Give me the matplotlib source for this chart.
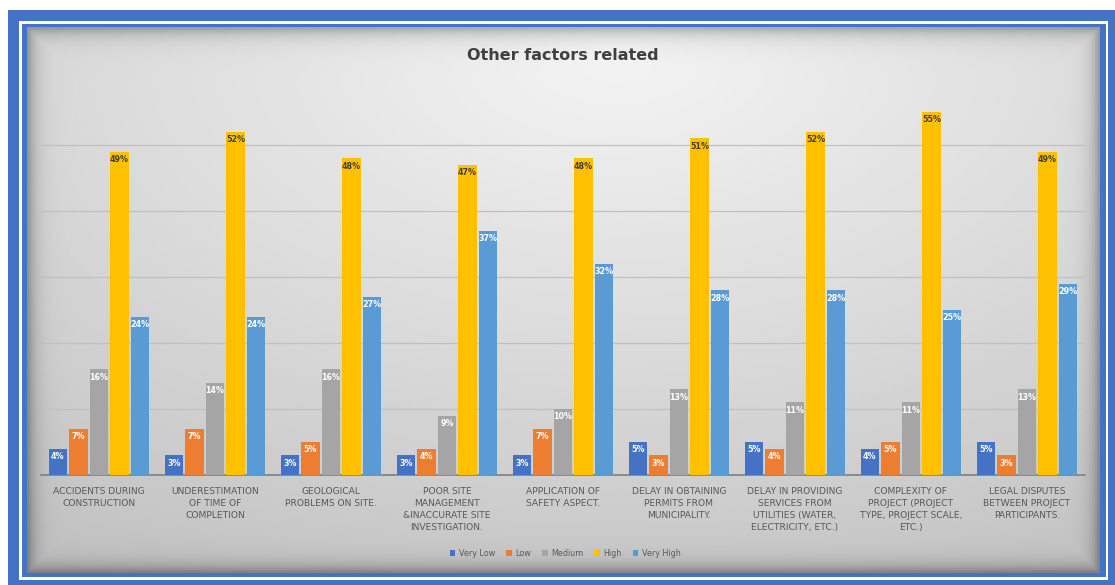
import numpy as np
import matplotlib
matplotlib.use("Agg")
import matplotlib.pyplot as plt
from matplotlib.patches import Rectangle

categories = [
    "ACCIDENTS DURING\nCONSTRUCTION",
    "UNDERESTIMATION\nOF TIME OF\nCOMPLETION",
    "GEOLOGICAL\nPROBLEMS ON SITE.",
    "POOR SITE\nMANAGEMENT\n&INACCURATE SITE\nINVESTIGATION.",
    "APPLICATION OF\nSAFETY ASPECT.",
    "DELAY IN OBTAINING\nPERMITS FROM\nMUNICIPALITY.",
    "DELAY IN PROVIDING\nSERVICES FROM\nUTILITIES (WATER,\nELECTRICITY, ETC.)",
    "COMPLEXITY OF\nPROJECT (PROJECT\nTYPE, PROJECT SCALE,\nETC.)",
    "LEGAL DISPUTES\nBETWEEN PROJECT\nPARTICIPANTS.",
]
series_names = ["Very Low", "Low", "Medium", "High", "Very High"]
very_low = [4, 3, 3, 3, 3, 5, 5, 4, 5]
low = [7, 7, 5, 4, 7, 3, 4, 5, 3]
medium = [16, 14, 16, 9, 10, 13, 11, 11, 13]
high = [49, 52, 48, 47, 48, 51, 52, 55, 49]
very_high = [24, 24, 27, 37, 32, 28, 28, 25, 29]

colors = ["#4472C4", "#ED7D31", "#A5A5A5", "#FFC000", "#5B9BD5"]
label_colors = ["white", "white", "white", "#404040", "white"]

W, H = 1115, 585
fig = plt.figure(figsize=(W / 100, H / 100), dpi=100)
fig.patch.set_facecolor("white")

# frame: outer blue, white gap, inner blue
def px_rect(x0, y0, x1, y1, color):
    fig.patches.append(Rectangle((x0 / W, 1 - y1 / H), (x1 - x0) / W, (y1 - y0) / H,
                                 transform=fig.transFigure, facecolor=color,
                                 edgecolor="none", zorder=-10))

px_rect(8, 10, 1115, 585, "#4472C4")
px_rect(19, 21, 1108, 580, "white")
px_rect(22, 24, 1106, 577, "#4472C4")

# chart background with soft gradient + inner shadow
bg = fig.add_axes([27 / W, 1 - 573 / H, (1100 - 27) / W, (573 - 27) / H], zorder=-5)
ny, nx = 200, 400
yy, xx = np.mgrid[0:1:ny * 1j, 0:1:nx * 1j]
r = np.sqrt(((xx - 0.55) / 1.0) ** 2 + ((yy - 0.05) / 1.1) ** 2)
base = 0.955 - 0.2 * np.clip(r, 0, 1)
edge = np.minimum.reduce([xx * nx, (1 - xx) * nx, yy * ny, (1 - yy) * ny])
shade = 0.25 * np.exp(-edge / 3.0)
img = np.clip(base - shade, 0, 1)
bg.imshow(img, cmap="gray", vmin=0, vmax=1, aspect="auto", extent=[0, 1, 0, 1])
bg.set_axis_off()

ax = fig.add_axes([41 / W, 1 - 475 / H, (1085 - 41) / W, (475 - 79) / H])
ax.patch.set_alpha(0)

x = np.arange(len(categories))
step = 0.177
width = 0.162
all_series = [very_low, low, medium, high, very_high]
for i, (name, vals) in enumerate(zip(series_names, all_series)):
    pos = x + (i - 2) * step
    bars = ax.bar(pos, vals, width, color=colors[i], label=name, zorder=3)
    for b, v in zip(bars, vals):
        ax.annotate(f"{v}%", (b.get_x() + b.get_width() / 2, v), xytext=(0, -2.5),
                    textcoords="offset points", ha="center", va="top",
                    fontsize=5.8, fontweight="bold", color=label_colors[i], zorder=4)

ax.set_xlim(-0.5, len(categories) - 0.5)
ax.set_ylim(0, 60)
ax.set_yticks([10, 20, 30, 40, 50])
ax.yaxis.grid(True, color="#c0c0c0", lw=0.9, zorder=0)
ax.tick_params(axis="y", left=False, labelleft=False)
ax.tick_params(axis="x", bottom=False, pad=5)
ax.set_xticks(x)
ax.set_xticklabels(categories, fontsize=6.6, color="#595959", linespacing=1.45)
for s in ["top", "right", "left"]:
    ax.spines[s].set_visible(False)
ax.spines["bottom"].set_color("#7f7f7f")
ax.spines["bottom"].set_linewidth(1.2)

fig.text(563 / W, 1 - 55 / H, "Other factors related", ha="center", va="center",
         fontsize=11.5, fontweight="bold", color="#404040")

leg = fig.legend(loc="center", bbox_to_anchor=(565 / W, 1 - 553 / H), ncol=5,
                 frameon=False, fontsize=5.8, handlelength=0.7, handleheight=0.7,
                 columnspacing=1.4, handletextpad=0.4)
for t in leg.get_texts():
    t.set_color("#595959")

fig.savefig("out.png", dpi=100)
